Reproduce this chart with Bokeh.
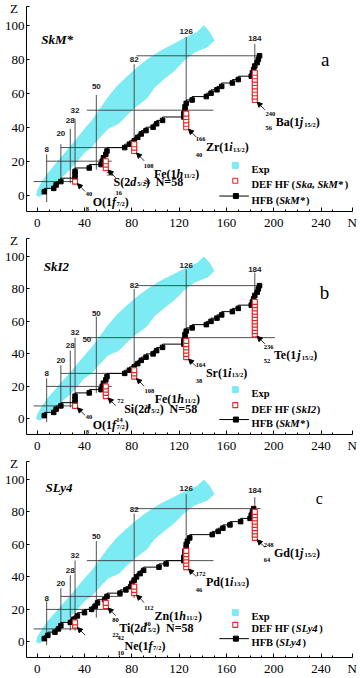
from bokeh.plotting import figure
from bokeh.layouts import column
from bokeh.models import ColumnDataSource, Arrow, NormalHead, FixedTicker
from bokeh.embed import file_html
from bokeh.resources import INLINE

# ---------------- data ----------------
x_ticks = [0, 40, 80, 120, 160, 200, 240]
x_minor = [10, 20, 30, 50, 60, 70, 90, 100, 110, 130, 140, 150, 170, 180, 190,
           210, 220, 230, 250]
y_ticks = [0, 20, 40, 60, 80, 100]
x_axis_name, x_axis_name_at = "N", 266.3
y_axis_name, y_axis_name_at = "Z\u00a0\u00a0", 111

# experimentally known nuclei (outline of the cyan band)
exp_N = [-1, 0, 4, 9, 15, 21, 27, 34, 41, 46, 52, 59, 67, 76, 84, 93, 104, 115, 126, 135, 141,
         146, 150,
         144, 133, 124, 116, 107, 99, 93, 82, 76, 69, 60, 52, 46, 40, 34, 25, 18, 12, 6, 2]
exp_Z = [0, 3, 8, 13, 18, 23, 28, 34, 40, 44, 50, 57, 64, 70, 75, 80, 85, 89, 93, 96, 100,
         96, 91,
         87, 84, 79, 73, 68, 63, 57, 51, 47, 42, 39, 33, 28, 25, 20, 13, 9, 5, 1, -1]

hfb_Z = [2, 4, 6, 8, 10, 12, 14, 16, 18, 20, 22, 24, 26, 28, 30, 32, 34, 36, 38, 40, 42,
         44, 46, 48, 50, 52, 54, 56, 58, 60, 62, 64, 66, 68, 70, 72, 74, 76, 78, 80, 82]
hfb_skm_N = [6, 14, 16, 20, 32, 32, 32, 44, 54, 55, 56, 58, 59, 74, 78, 82, 85, 88, 92, 98, 101,
             106, 124, 124, 125, 125, 126, 131, 143, 147, 152, 156, 165, 170, 181, 182, 183, 184,
             186, 187, 188]
hfb_sly4_N = [6, 9, 15, 18, 20, 28, 31, 34, 40, 46, 49, 51, 57, 59, 70, 75, 79, 80, 82, 84, 87,
              90, 103, 109, 124, 124, 125, 125, 126, 126, 127, 129, 148, 153, 157, 163, 172, 180,
              181, 182, 183]

# deformed HF last bound isotones (red squares)
def_a_N = [32, 58, 58, 58, 82, 82, 82, 126, 126, 126, 126, 126,
           184, 184, 184, 184, 184, 184, 184, 184, 184]
def_a_Z = [8, 16, 18, 20, 26, 28, 30, 40, 42, 44, 46, 48,
           56, 58, 60, 62, 64, 66, 68, 70, 72]
def_b_N = [32, 58, 58, 58, 58, 82, 82, 82, 126, 126, 126, 126, 126, 126,
           184, 184, 184, 184, 184, 184, 184, 184, 184, 184, 184]
def_b_Z = [8, 14, 16, 18, 20, 26, 28, 30, 38, 40, 42, 44, 46, 48,
           52, 54, 56, 58, 60, 62, 64, 66, 68, 70, 72]
def_c_N = [32, 32, 58, 58, 82, 82, 82, 126, 126, 126, 126, 126, 126,
           184, 184, 184, 184, 184, 184, 184, 184, 184]
def_c_Z = [10, 12, 22, 24, 30, 32, 34, 46, 48, 50, 52, 54, 56,
           64, 66, 68, 70, 72, 74, 76, 78, 80]

# magic numbers
magic_N = [8, 20, 28, 32, 50, 82, 126, 184]
magic_N_txt = ["8", "20", "28", "32", "50", "82", "126", "184"]
magic_Z = [8, 20, 28, 50, 82]

a_vZ0 = [-4, 7, 7, 7, 15, 26, 51, 63]
a_vZ1 = [24, 30, 39, 45, 59, 77, 93, 89]
a_labZ = [27, 36, 44, 50, 64, 80, 96, 92]
a_hN0 = [-3, 8, 20, 42, 84]
a_hN1 = [34, 63, 74, 149, 187]

b_vZ0 = [-2, 8, 7, 6, 16, 25, 50, 52]
b_vZ1 = [25, 33, 42, 50, 63, 80, 92, 90]
b_labZ = [28, 36, 45, 53, 65, 82, 94.5, 92]
b_hN0 = [-3, 8, 20, 42, 84]
b_hN1 = [34, 63, 73, 201, 187]

c_vZ0 = [-2, 8, 7, 7, 15, 27, 48, 81]
c_vZ1 = [25, 33, 41, 50, 62, 79, 91, 89]
c_labZ = [27, 36, 44, 53, 65, 81.5, 94.3, 93.3]
c_hN0 = [-3, 8, 20, 42, 82]
c_hN1 = [34, 62, 72, 149, 189]

# labelled nuclei
a_mass = ["40", "74", "108", "166", "240"]
a_zz = ["8", "16", "26", "40", "56"]
a_sym = ["O", "S", "Fe", "Zr", "Ba"]
b_mass = ["40", "72", "108", "164", "236"]
b_zz = ["8", "14", "26", "38", "52"]
b_sym = ["O", "Si", "Fe", "Sr", "Te"]
c_mass = ["42", "80", "112", "172", "248"]
c_zz = ["10", "22", "30", "46", "64"]
c_sym = ["Ne", "Ti", "Zn", "Pd", "Gd"]
shell_n = ["1", "2", "1", "1", "1"]
shell_l = ["f", "d", "h", "i", "j"]
shell_j = ["7/2", "5/2", "11/2", "13/2", "15/2"]
shell_extra = ["", "N=58", "", "", ""]
label_N0 = [32, 58, 82, 126, 184]

# ---------------- styling ----------------
SERIF = "Liberation Serif"
SANS = "Liberation Sans"
CYAN = "#7CEBF4"
RED = "#EE2424"
GRAY = "#3c3c3c"
X0, X1 = -9.04, 266.6
Y0, Y1 = -9.6, 111

W = {'(': .333, ')': .333, '/': .278, ' ': .25, '=': .57, '*': .5, ',': .25,
     'O': .778, 'S': .556, 'F': .611, 'Z': .667, 'B': .667, 'T': .667, 'N': .722, 'G': .778,
     'P': .611, 'D': .722, 'E': .667, 'H': .778, 'I': .389, 'L': .667, 'K': .778, 'M': .944,
     'e': .444, 'r': .444, 'i': .278, 'a': .5, 'n': .556, 'd': .556, 'h': .556, 'f': .333,
     'j': .333, 'b': .556, 's': .389, 'k': .556, 'y': .5, 'l': .278, 'c': .444, 'p': .556,
     'x': .5}


def tw(s, size):
    return sum(W.get(ch, 0.5) for ch in s) * size


def make_panel(cfg):
    p = figure(width=360, height=cfg["height"], x_range=(X0, X1), y_range=(Y0, Y1),
               output_backend="svg", toolbar_location=None,
               min_border_left=26, min_border_right=8, min_border_top=6,
               min_border_bottom=19)
    p.outline_line_color = None
    p.xgrid.visible = False
    p.ygrid.visible = False
    p.background_fill_color = "white"

    p.patch(exp_N, exp_Z, fill_color=CYAN, line_color=None)

    p.segment(x0=magic_N, y0=cfg["vZ0"], x1=magic_N, y1=cfg["vZ1"],
              line_color=GRAY, line_width=0.9)
    p.segment(x0=cfg["hN0"], y0=magic_Z, x1=cfg["hN1"], y1=magic_Z,
              line_color=GRAY, line_width=0.9)
    msrc = ColumnDataSource(dict(x=magic_N, y=cfg["labZ"], t=magic_N_txt))
    p.text(x="x", y="y", text="t", source=msrc, text_font_size="8px",
           text_font_style="bold", text_align="center", text_baseline="middle",
           text_color="#222222", text_font={"value": SANS})

    p.step(cfg["hfbN"], hfb_Z, mode="before", line_color="black", line_width=1)
    p.scatter(cfg["hfbN"], hfb_Z, marker="square", size=4.5,
              fill_color="black", line_color="black")
    p.scatter(cfg["defN"], cfg["defZ"], marker="square", size=5,
              fill_color="white", line_color=RED, line_width=1.1)

    # arrows to the first red square of each isotone chain
    hx, hy, tx, ty = [], [], [], []
    for n0 in label_N0:
        zs = [z for n, z in zip(cfg["defN"], cfg["defZ"]) if n == n0]
        zmin = min(zs)
        hx.append(n0 + 2.0)
        hy.append(zmin - 1.2)
        tx.append(n0 + 8.5)
        ty.append(zmin - 5.8)
    asrc = ColumnDataSource(dict(xs=tx, ys=ty, xe=hx, ye=hy))
    p.add_layout(Arrow(source=asrc, x_start="xs", y_start="ys", x_end="xe", y_end="ye",
                       line_width=0.8, line_color="black",
                       end=NormalHead(size=5, fill_color="black", line_color="black")))

    # rich text pieces
    P = dict(x=[], y=[], t=[], xo=[], yo=[], sz=[], st=[])

    def put(x, y, t, xo, yo, sz, st="bold"):
        P["x"].append(x); P["y"].append(y); P["t"].append(t)
        P["xo"].append(xo); P["yo"].append(yo); P["sz"].append(f"{sz}px"); P["st"].append(st)

    sub, main = 6.5, 12
    for i in range(5):
        x, y = cfg["labN"][i], cfg["labZ2"][i]
        mass, zz = cfg["mass"][i], cfg["zz"][i]
        zdx, zdy = cfg["zoff"][i]
        put(x, y, mass, 0, -8, sub)
        put(x, y, zz, zdx, zdy, sub)
        o = max(tw(mass, sub), tw(zz, sub)) + 0.5
        s1 = cfg["sym"][i] + "(" + shell_n[i]
        put(x, y, s1, o, 0, main); o += tw(s1, main)
        put(x, y, shell_l[i], o, 0, main, "bold italic"); o += tw(shell_l[i], main) + 0.5
        put(x, y, shell_j[i], o, 2, sub); o += tw(shell_j[i], sub)
        put(x, y, ")", o, 0, main); o += tw(")", main)
        if shell_extra[i]:
            put(x, y, shell_extra[i], o + 6, 0, main)

    # legend
    lz = cfg["legZ"]
    p.scatter([167.5], [lz[0]], marker="square", size=6, fill_color=CYAN, line_color=CYAN)
    p.scatter([167.5], [lz[1]], marker="square", size=5, fill_color="white",
              line_color=RED, line_width=1.1)
    p.line([154, 179], [lz[2], lz[2]], line_color="black", line_width=1)
    p.scatter([168], [lz[2]], marker="square", size=5, fill_color="black", line_color="black")
    lsz = 10.5
    lx = 181.2
    put(lx, lz[0], "Exp", 0, 4, lsz)
    o = 0
    for txt, st in [("DEF HF (", "bold"), (cfg["defname"], "bold italic"), (")", "bold")]:
        put(lx, lz[1], txt, o, 4, lsz, st); o += tw(txt, lsz)
    o = 0
    for txt, st in [("HFB (", "bold"), (cfg["hfbname"], "bold italic"), (")", "bold")]:
        put(lx, lz[2], txt, o, 4, lsz, st); o += tw(txt, lsz)

    # panel title
    put(cfg["title_pos"][0], cfg["title_pos"][1], cfg["title"], 0, 0, 13, "bold italic")

    src = ColumnDataSource(P)
    p.text(x="x", y="y", text="t", x_offset="xo", y_offset="yo", text_font_size="sz",
           text_font_style="st", text_font={"value": SERIF}, text_color="black",
           text_align="left", text_baseline="alphabetic", source=src)
    lsrc = ColumnDataSource(dict(x=[cfg["letter_pos"][0]], y=[cfg["letter_pos"][1]],
                                 t=[cfg["letter"]]))
    p.text(x="x", y="y", text="t", source=lsrc, text_font_size=cfg["letter_size"],
           text_font={"value": SERIF}, text_align="left", text_baseline="alphabetic",
           text_color="black")
    if cfg.get("extra50"):
        esrc = ColumnDataSource(dict(x=[42], y=[49], t=["50"]))
        p.text(x="x", y="y", text="t", source=esrc, text_font_size="8px",
               text_font_style="bold", text_align="center", text_baseline="middle",
               text_color="#222222", text_font={"value": SANS})

    # axes; axis names sit in the tick-label rows as in the original figure
    p.xaxis.ticker = FixedTicker(ticks=x_ticks + [x_axis_name_at], minor_ticks=x_minor)
    p.xaxis.major_label_overrides = {x_axis_name_at: x_axis_name}
    p.yaxis.ticker = FixedTicker(ticks=y_ticks + [y_axis_name_at], minor_ticks=[])
    p.yaxis.major_label_overrides = {y_axis_name_at: y_axis_name}
    for ax in (p.xaxis[0], p.yaxis[0]):
        ax.major_label_text_font = SERIF
        ax.major_label_text_font_size = "13px"
        ax.major_label_text_color = "black"
        ax.axis_line_color = "black"
        ax.axis_line_width = 1
        ax.major_tick_out = 0
        ax.minor_tick_out = 0
        ax.major_tick_line_color = "black"
        ax.minor_tick_line_color = "black"
    p.xaxis.major_tick_in = 4
    p.xaxis.minor_tick_in = 2
    p.xaxis.major_label_standoff = 3
    p.yaxis.major_tick_in = 3
    p.yaxis.minor_tick_in = 0
    p.yaxis.major_label_standoff = 2
    return p


cfg_a = dict(height=232, vZ0=a_vZ0, vZ1=a_vZ1, labZ=a_labZ, hN0=a_hN0, hN1=a_hN1,
             hfbN=hfb_skm_N, defN=def_a_N, defZ=def_a_Z,
             labN=[41, 58.6, 90, 134, 193], labZ2=[-4.0, 8.0, 12.5, 28.2, 43],
             zoff=[(0, 7), (9, 11), (0, 8), (0, 8), (0, 6)],
             mass=a_mass, zz=a_zz, sym=a_sym,
             legZ=[17.5, 8.5, -0.5], defname="Ska, SkM*", hfbname="SkM*",
             title="SkM*", title_pos=(3.4, 91.7), letter="a", letter_pos=(240, 80),
             letter_size="19px")
cfg_b = dict(height=223, vZ0=b_vZ0, vZ1=b_vZ1, labZ=b_labZ, hN0=b_hN0, hN1=b_hN1,
             hfbN=hfb_skm_N, defN=def_b_N, defZ=def_b_Z,
             labN=[41, 67.6, 90.7, 134, 191.5], labZ2=[-3.5, 6.2, 12.5, 28.3, 39.1],
             zoff=[(0, 7), (-1, 11), (0, 8), (0, 8), (0, 6)],
             mass=b_mass, zz=b_zz, sym=b_sym,
             legZ=[18, 8.5, -0.4], defname="SkI2", hfbname="SkM*",
             title="SkI2", title_pos=(5.6, 93.9), letter="b", letter_pos=(239, 77.7),
             letter_size="19px", extra50=True)
cfg_c = dict(height=223, vZ0=c_vZ0, vZ1=c_vZ1, labZ=c_labZ, hN0=c_hN0, hN1=c_hN1,
             hfbN=hfb_sly4_N, defN=def_c_N, defZ=def_c_Z,
             labN=[68, 63.4, 90.5, 134, 191.5], labZ2=[-2.5, 8.8, 16, 37, 54.7],
             zoff=[(0, 7), (0, 7), (0, 8), (0, 8), (0, 7)],
             mass=c_mass, zz=c_zz, sym=c_sym,
             legZ=[18, 10.5, 2], defname="SLy4", hfbname="SLy4",
             title="SLy4", title_pos=(7, 94.7), letter="c", letter_pos=(235.6, 88.3),
             letter_size="16px")

layout = column(make_panel(cfg_a), make_panel(cfg_b), make_panel(cfg_c), spacing=0)
open("out.html", "w").write(file_html(layout, INLINE))
